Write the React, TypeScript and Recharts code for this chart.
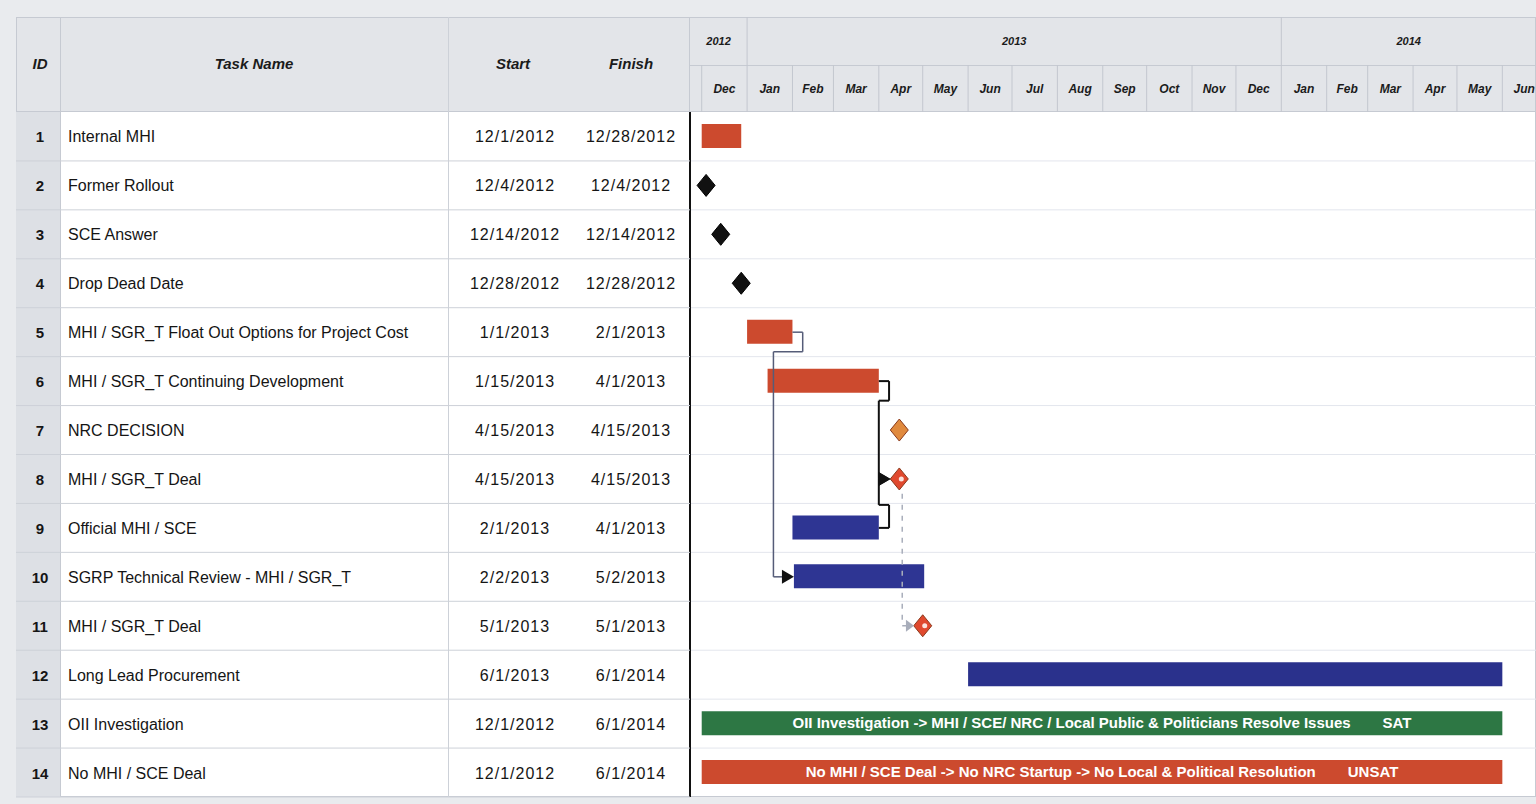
import React from 'react';
import { ComposedChart, Bar, Scatter, XAxis, YAxis, ReferenceLine, Cell, LabelList } from 'recharts';

// table columns
const taskIds = [1, 2, 3, 4, 5, 6, 7, 8, 9, 10, 11, 12, 13, 14];
const taskNames = [
  'Internal MHI',
  'Former Rollout',
  'SCE Answer',
  'Drop Dead Date',
  'MHI / SGR_T Float Out Options for Project Cost',
  'MHI / SGR_T Continuing Development',
  'NRC DECISION',
  'MHI / SGR_T Deal',
  'Official MHI / SCE',
  'SGRP Technical Review - MHI / SGR_T',
  'MHI / SGR_T Deal',
  'Long Lead Procurement',
  'OII Investigation',
  'No MHI / SCE Deal',
];
const startDates = [
  '12/1/2012', '12/4/2012', '12/14/2012', '12/28/2012', '1/1/2013', '1/15/2013', '4/15/2013',
  '4/15/2013', '2/1/2013', '2/2/2013', '5/1/2013', '6/1/2013', '12/1/2012', '12/1/2012',
];
const finishDates = [
  '12/28/2012', '12/4/2012', '12/14/2012', '12/28/2012', '2/1/2013', '4/1/2013', '4/15/2013',
  '4/15/2013', '4/1/2013', '5/2/2013', '5/1/2013', '6/1/2014', '6/1/2014', '6/1/2014',
];
const taskKinds = [
  'task', 'milestone', 'milestone', 'milestone', 'task', 'task', 'decision',
  'deal', 'official', 'review', 'deal', 'procurement', 'sat', 'unsat',
];

// text written inside the two long bars
const noteTaskIds = [13, 14];
const noteTexts = [
  'OII Investigation -> MHI / SCE/ NRC / Local Public & Politicians Resolve Issues',
  'No MHI / SCE Deal -> No NRC Startup -> No Local & Political Resolution',
];
const noteStatus = ['SAT', 'UNSAT'];

// predecessor links (task id -> task id)
const linkFrom = [5, 6, 9, 8];
const linkTo = [10, 8, 8, 11];

// timescale header
const monthLabels = ['Dec', 'Jan', 'Feb', 'Mar', 'Apr', 'May', 'Jun', 'Jul', 'Aug', 'Sep', 'Oct', 'Nov', 'Dec', 'Jan', 'Feb', 'Mar', 'Apr', 'May', 'Jun'];
const monthStarts = [
  '12/1/2012', '1/1/2013', '2/1/2013', '3/1/2013', '4/1/2013', '5/1/2013', '6/1/2013', '7/1/2013', '8/1/2013', '9/1/2013',
  '10/1/2013', '11/1/2013', '12/1/2013', '1/1/2014', '2/1/2014', '3/1/2014', '4/1/2014', '5/1/2014', '6/1/2014', '7/1/2014',
];
const yearLabels = ['2012', '2013', '2014'];
const yearStarts = ['1/1/2012', '1/1/2013', '1/1/2014', '1/1/2015'];

const DAY0 = Date.UTC(2012, 11, 1);
const dayOf = (s: string) => {
  const [m, d, y] = s.split('/').map(Number);
  return (Date.UTC(y, m - 1, d) - DAY0) / 86400000;
};

const DAY_MIN = -8;
const DAY_MAX = 570;
const W = 1536;
const H = 804;
const TOP = 112;
const BOTTOM = 797;
const ROW_H = (BOTTOM - TOP) / taskIds.length;
const LEFT_W = 690;

const KIND_COLOR: Record<string, string> = {
  task: '#cc4a2e',
  unsat: '#cc4a2e',
  official: '#2e3593',
  review: '#2e3593',
  procurement: '#2a318c',
  sat: '#2d7744',
  milestone: '#111111',
  decision: '#e08a3e',
  deal: '#e0492e',
};

const rows = taskIds.map((id, i) => {
  const s = dayOf(startDates[i]);
  const e = dayOf(finishDates[i]);
  const n = noteTaskIds.indexOf(id);
  return {
    id,
    s,
    e,
    milestone: s === e,
    span: s === e ? null : [s, e],
    kind: taskKinds[i],
    note: n >= 0 ? noteTexts[n] : undefined,
  };
});

const milestonePoints = rows
  .map((r, i) => ({ x: r.s, row: i + 0.5, kind: r.kind }))
  .filter((p, i) => rows[i].milestone);

// link routing (MS Project style elbows)
const segments: { a: { x: number; y: number }; b: { x: number; y: number }; style: string }[] = [];
const arrowPoints: { x: number; row: number; style: string }[] = [];
linkFrom.forEach((f, k) => {
  const src = rows[f - 1];
  const dst = rows[linkTo[k] - 1];
  const cf = f - 0.5;
  const ct = linkTo[k] - 0.5;
  const tip = dst.milestone ? dst.s - 6 : dst.s;
  const add = (pts: number[][], style: string) => {
    for (let i = 0; i < pts.length - 1; i++) {
      segments.push({ a: { x: pts[i][0], y: pts[i][1] }, b: { x: pts[i + 1][0], y: pts[i + 1][1] }, style });
    }
  };
  if (src.milestone) {
    const vx = src.e + 2;
    add([[vx, cf + 0.3], [vx, ct], [tip - 4, ct]], 'dashed');
    arrowPoints.push({ x: tip, row: ct, style: 'dashed' });
    return;
  }
  const out = src.e + 7;
  const back = dst.s - 14;
  const jog = ct > cf ? cf + 0.4 : cf - 0.47;
  const style = k === 0 ? 'thin' : 'solid';
  add([[src.e, cf], [out, cf], [out, jog], [back, jog], [back, ct], [tip - 5, ct]], style);
  arrowPoints.push({ x: tip, row: ct, style });
});

// header ticks: month dividers, month labels, year labels
const tickInfo = new Map<number, { type: string; label?: string; jan?: boolean }>();
const putTick = (v: number, info: { type: string; label?: string; jan?: boolean }) => {
  let key = v;
  while (tickInfo.has(key)) key += 0.01;
  tickInfo.set(key, info);
};
monthStarts.forEach((m, i) => {
  const d = dayOf(m);
  if (d > DAY_MIN && d < DAY_MAX) putTick(d, { type: 'divider', jan: m.startsWith('1/1/') });
  if (i < monthLabels.length) {
    const mid = (d + dayOf(monthStarts[i + 1])) / 2;
    if (mid < DAY_MAX) putTick(mid, { type: 'month', label: monthLabels[i] });
  }
});
yearLabels.forEach((y, i) => {
  const a = Math.max(DAY_MIN, dayOf(yearStarts[i]));
  const b = Math.min(DAY_MAX, dayOf(yearStarts[i + 1]));
  putTick((a + b) / 2, { type: 'year', label: y });
});
const headerTicks = Array.from(tickInfo.keys()).sort((a, b) => a - b);

const FONT = "'Liberation Sans', Arial, sans-serif";
const NARROW = "'Liberation Sans Narrow', 'Arial Narrow', 'Liberation Sans', sans-serif";

const HeaderTick = (props: any) => {
  const { x, payload } = props;
  const info = tickInfo.get(payload.value);
  if (!info) return null;
  if (info.type === 'divider') {
    return (
      <line x1={x} x2={x} y1={info.jan ? 17 : 65} y2={TOP} stroke="#c3c7cf" strokeWidth={1} />
    );
  }
  return (
    <text
      x={x}
      y={info.type === 'year' ? 45 : 93}
      textAnchor="middle"
      fontFamily={NARROW}
      fontStyle="italic"
      fontWeight="bold"
      fontSize={info.type === 'year' ? 11 : 12}
      fill="#1b1b1b"
    >
      {info.label}
    </text>
  );
};

const RowTick = (props: any) => {
  const { y, payload } = props;
  const i = taskIds.indexOf(payload.value);
  if (i < 0) return null;
  return (
    <g fontFamily={FONT} fill="#151515">
      <text x={40} y={y + 6} textAnchor="middle" fontSize={15} fontWeight="bold">{taskIds[i]}</text>
      <text x={68} y={y + 6} fontSize={16}>{taskNames[i]}</text>
      <text x={515} y={y + 6} textAnchor="middle" fontSize={16} letterSpacing={1}>{startDates[i]}</text>
      <text x={631} y={y + 6} textAnchor="middle" fontSize={16} letterSpacing={1}>{finishDates[i]}</text>
      <line x1={16} x2={LEFT_W} y1={y + ROW_H / 2} y2={y + ROW_H / 2} stroke="#cdd1d8" />
    </g>
  );
};

const NoteLabel = (props: any) => {
  const vb = props.viewBox ?? props;
  const n = noteTexts.indexOf(props.value);
  if (n < 0 || !vb) return null;
  return (
    <text
      x={vb.x + vb.width / 2}
      y={vb.y + vb.height / 2 + 5}
      textAnchor="middle"
      fill="#ffffff"
      fontFamily={NARROW}
      fontWeight="bold"
      fontSize={15}
    >
      <tspan>{noteTexts[n]}</tspan>
      <tspan dx={32}>{noteStatus[n]}</tspan>
    </text>
  );
};

const Diamond = (props: any) => {
  const { cx, cy, payload } = props;
  const fill = KIND_COLOR[payload.kind];
  const w = 9;
  const h = 11;
  return (
    <g>
      <polygon
        points={`${cx},${cy - h} ${cx + w},${cy} ${cx},${cy + h} ${cx - w},${cy}`}
        fill={fill}
        stroke={payload.kind === 'milestone' ? '#000' : '#8a3a1c'}
        strokeWidth={1}
        strokeLinejoin="round"
      />
      {payload.kind === 'deal' && <circle cx={cx + 2} cy={cy} r={2.5} fill="#fbe3dc" />}
    </g>
  );
};

const Arrow = (props: any) => {
  const { cx, cy, payload } = props;
  const dashed = payload.style === 'dashed';
  const l = dashed ? 8 : 12;
  const h = dashed ? 6 : 7;
  return (
    <polygon
      points={`${cx},${cy} ${cx - l},${cy - h} ${cx - l},${cy + h}`}
      fill={dashed ? '#a8adba' : '#111'}
    />
  );
};

const LINK_STROKE: Record<string, string> = { thin: '#555c78', solid: '#111', dashed: '#a9aebb' };

const Box = ({ l, t, w, h, bg, style }: any) => (
  <div style={{ position: 'absolute', left: l, top: t, width: w, height: h, background: bg, ...style }} />
);

const HeadText = ({ cx, children }: any) => (
  <div
    style={{
      position: 'absolute',
      left: cx - 80,
      width: 160,
      top: 55,
      textAlign: 'center',
      fontFamily: FONT,
      fontStyle: 'italic',
      fontWeight: 'bold',
      fontSize: 15,
      color: '#1b1b1b',
    }}
  >
    {children}
  </div>
);

export default function App() {
  return (
    <div style={{ position: 'absolute', left: 0, top: 0, width: W, height: H, background: '#e9ebee', overflow: 'hidden' }}>
      <Box l={16} t={17} w={W - 16} h={BOTTOM - 17} bg="#ffffff" style={{ boxSizing: 'border-box', border: '1px solid #c6cad2' }} />
      <Box l={16} t={17} w={W - 16} h={TOP - 17} bg="#e3e5e9" style={{ boxSizing: 'border-box', border: '1px solid #c6cad2' }} />
      <Box l={16} t={TOP} w={44} h={BOTTOM - TOP} bg="#dde0e5" />
      <Box l={60} t={17} w={1} h={BOTTOM - 17} bg="#c6cad2" />
      <Box l={448} t={17} w={1} h={BOTTOM - 17} bg="#cdd1d8" />
      <Box l={LEFT_W - 1} t={17} w={1} h={TOP - 17} bg="#c6cad2" />
      <Box l={LEFT_W} t={65} w={W - LEFT_W} h={1} bg="#c6cad2" />
      <HeadText cx={40}>ID</HeadText>
      <HeadText cx={254}>Task Name</HeadText>
      <HeadText cx={513}>Start</HeadText>
      <HeadText cx={631}>Finish</HeadText>
      <div style={{ position: 'absolute', left: 0, top: 0 }}>
        <ComposedChart
          width={W}
          height={H}
          data={rows}
          layout="vertical"
          margin={{ top: 18, right: 0, bottom: H - BOTTOM, left: 0 }}
        >
          <XAxis
            type="number"
            dataKey="x"
            orientation="top"
            domain={[DAY_MIN, DAY_MAX]}
            allowDataOverflow
            ticks={headerTicks}
            interval={0}
            tick={HeaderTick}
            axisLine={false}
            tickLine={false}
            height={TOP - 18}
          />
          <YAxis
            type="category"
            dataKey="id"
            width={LEFT_W}
            interval={0}
            tick={RowTick}
            tickLine={false}
            axisLine={{ stroke: '#111', strokeWidth: 2 }}
          />
          <YAxis yAxisId="r" type="number" dataKey="row" domain={[0, taskIds.length]} hide allowDataOverflow />
          {taskIds.slice(1).map((_, k) => (
            <ReferenceLine key={`g${k}`} yAxisId="r" y={k + 1} stroke="#e3e6ed" />
          ))}
          <Bar dataKey="span" barSize={24} isAnimationActive={false}>
            {rows.map((r) => (
              <Cell key={r.id} fill={KIND_COLOR[r.kind]} />
            ))}
            <LabelList dataKey="note" content={NoteLabel} />
          </Bar>
          {segments.map((sg, k) => (
            <ReferenceLine
              key={`l${k}`}
              yAxisId="r"
              segment={[sg.a, sg.b]}
              stroke={LINK_STROKE[sg.style]}
              strokeWidth={sg.style === 'solid' ? 2 : 1.5}
              strokeDasharray={sg.style === 'dashed' ? '5 6' : undefined}
            />
          ))}
          <Scatter yAxisId="r" data={milestonePoints} shape={Diamond} isAnimationActive={false} />
          <Scatter yAxisId="r" data={arrowPoints} shape={Arrow} isAnimationActive={false} />
        </ComposedChart>
      </div>
    </div>
  );
}
